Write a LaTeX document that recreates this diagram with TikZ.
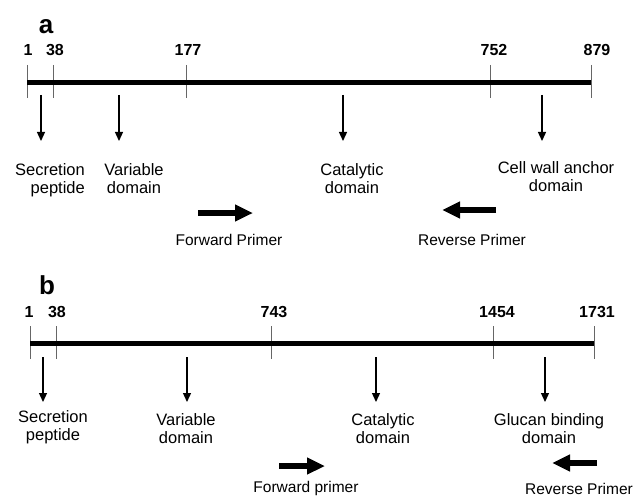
\documentclass[tikz,border=0pt]{standalone}
\usepackage{fontspec}
\setmainfont{Liberation Sans}
\usetikzlibrary{arrows.meta}

\begin{document}
\begin{tikzpicture}[
    x=1pt, y=-1pt,
    panel/.style={font=\fontsize{26}{26}\selectfont\bfseries, inner sep=0pt},
    posnum/.style={font=\fontsize{16}{16}\selectfont\bfseries, inner sep=0pt},
    gene/.style={line width=5pt},
    tickmark/.style={line width=1pt, black!60},
    domlabel/.style={font=\fontsize{16.5}{18}\selectfont, align=center, inner sep=0pt},
    pointer/.style={line width=1.3pt, -{Triangle[length=9pt,width=8pt]}},
    primer/.style={line width=6pt, -{Triangle[length=18pt,width=16pt]}},
    plabel/.style={font=\fontsize{15.5}{18}\selectfont, inner sep=0pt}
  ]
  \useasboundingbox (0,0) rectangle (644,497);
  % Panel a
  \node[panel] (pa) at (46,27) {a};
  \foreach \n/\x/\lx/\l in {1/27/28/1, 2/53/55/38, 3/186/188/177, 4/490/494/752, 5/591/597/879} {
    \coordinate (ta\n) at (\x,82.5);
    \draw[tickmark] (ta\n) ++(0,-17.5) -- ++(0,33);
    \node[posnum] (na\n) at (\lx,50) {\l};
  }
  \draw[gene] (ta1) -- (ta5);
  \foreach \n/\x in {1/41, 2/119, 3/343, 4/542} {
    \coordinate (sa\n) at (\x,95);
    \coordinate (ea\n) at (\x,141);
    \draw[pointer] (sa\n) -- (ea\n);
  }
  \node[domlabel,align=right] (da1) at (50,180) {Secretion\\peptide};
  \node[domlabel] (da2) at (134,179) {Variable\\domain};
  \node[domlabel] (da3) at (352,179) {Catalytic\\domain};
  \node[domlabel] (da4) at (556,176.5) {Cell wall anchor\\domain};
  % Primers a
  \coordinate (fa0) at (198,213);
  \coordinate (fa1) at (253,213);
  \draw[primer] (fa0) -- (fa1);
  \node[plabel] (fla) at (229,240) {Forward Primer};
  \coordinate (ra0) at (496,210);
  \coordinate (ra1) at (442,210);
  \draw[primer] (ra0) -- (ra1);
  \node[plabel] (rla) at (472,240) {Reverse Primer};
  % Panel b
  \node[panel] (pb) at (47,285) {b};
  \foreach \n/\x/\lx/\l in {1/30/29/1, 2/56/57/38, 3/271/274/743, 4/493/497/1454, 5/594/597/1731} {
    \coordinate (tb\n) at (\x,343);
    \draw[tickmark] (tb\n) ++(0,-17) -- ++(0,33);
    \node[posnum] (nb\n) at (\lx,312) {\l};
  }
  \draw[gene] (tb1) -- (tb5);
  \foreach \n/\x in {1/43, 2/187, 3/376, 4/545} {
    \coordinate (sb\n) at (\x,357);
    \coordinate (eb\n) at (\x,402);
    \draw[pointer] (sb\n) -- (eb\n);
  }
  \node[domlabel] (db1) at (53,427) {Secretion\\peptide};
  \node[domlabel] (db2) at (186,429) {Variable\\domain};
  \node[domlabel] (db3) at (383,429) {Catalytic\\domain};
  \node[domlabel] (db4) at (549,429) {Glucan binding\\domain};
  % Primers b
  \coordinate (fb0) at (279,466);
  \coordinate (fb1) at (325,466);
  \draw[primer] (fb0) -- (fb1);
  \node[plabel] (flb) at (306,488.5) {Forward primer};
  \coordinate (rb0) at (597,463);
  \coordinate (rb1) at (552,463);
  \draw[primer] (rb0) -- (rb1);
  \node[plabel] (rlb) at (579,488.5) {Reverse Primer};
\end{tikzpicture}
\end{document}
